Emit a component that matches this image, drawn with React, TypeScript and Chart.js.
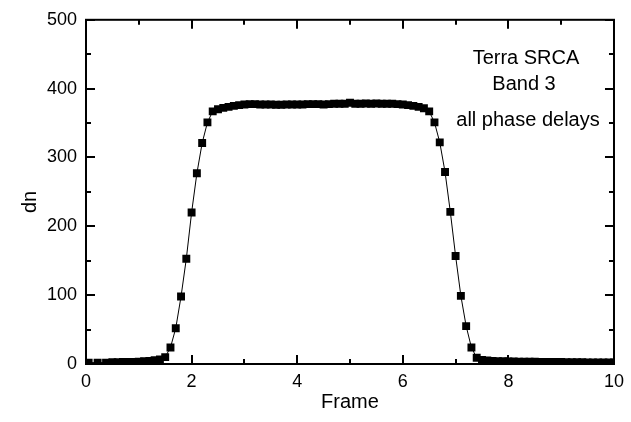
import React, { useEffect, useRef } from "react";
import { Chart, registerables } from "chart.js";

Chart.register(...registerables);

// Frame position of each sample
const frame: number[] = [
  0.05, 0.22, 0.38, 0.5, 0.6, 0.7, 0.8, 0.9, 1.0, 1.1, 1.2, 1.3, 1.4,
  1.5, 1.6, 1.7, 1.8, 1.9, 2.0, 2.1, 2.2, 2.3, 2.4, 2.5, 2.6, 2.7, 2.8, 2.9,
  3.0, 3.1, 3.2, 3.3, 3.4, 3.5, 3.6, 3.7, 3.8, 3.9, 4.0, 4.1, 4.2, 4.3, 4.4,
  4.5, 4.6, 4.7, 4.8, 4.9, 5.0, 5.1, 5.2, 5.3, 5.4, 5.5, 5.6, 5.7, 5.8, 5.9,
  6.0, 6.1, 6.2, 6.3, 6.4, 6.5, 6.6, 6.7, 6.8, 6.9, 7.0, 7.1, 7.2, 7.3, 7.4,
  7.5, 7.6, 7.7, 7.8, 7.9, 8.0, 8.1, 8.2, 8.3, 8.4, 8.5, 8.6, 8.7, 8.8, 8.9,
  9.0, 9.1, 9.2, 9.3, 9.4, 9.5, 9.6, 9.7, 9.8, 9.9, 10.0,
];

// Measured dn for each frame position
const dn: number[] = [
  2, 2, 2, 2.5, 2.5, 3, 3, 3, 3.5, 4, 4.5, 5.5, 6.5,
  10, 24, 52, 98, 153, 220, 277, 321, 351, 367, 370, 372, 373.5, 375, 376,
  377, 377.5, 377.5, 377, 377, 377, 376.5, 376.5, 377, 377, 377, 377, 377.5, 377.5, 377.5,
  377, 377.5, 378, 378, 378, 379.5, 378, 378, 378.5, 378, 378.5, 378, 378, 378, 377.5,
  377, 376, 375, 373.5, 371.5, 367, 351, 322, 279, 221, 157, 99, 55, 24, 9,
  6, 5, 4.5, 4, 4, 3.8, 3.6, 3.5, 3.4, 3.3, 3.2, 3.1, 3, 3, 3,
  2.8, 2.7, 2.6, 2.5, 2.5, 2.4, 2.3, 2.3, 2.2, 2.2, 2.1,
];

const xMajorTicks: number[] = [0, 2, 4, 6, 8, 10];
const xMinorTicks: number[] = [1, 3, 5, 7, 9];
const yMajorTicks: number[] = [0, 100, 200, 300, 400, 500];
const yMinorTicks: number[] = [50, 150, 250, 350, 450];

const xTitle = "Frame";
const yTitle = "dn";
const noteLines: string[] = ["Terra SRCA", "Band 3", "all phase delays"];

const FONT = "'Liberation Sans', Arial, sans-serif";

// Box frame, inward ticks on all four sides, axis titles and the note
const framePlugin = {
  id: "frameTicks",
  afterDatasetsDraw(chart: any) {
    const { ctx, chartArea: a } = chart;
    const xs = chart.scales.x;
    const ys = chart.scales.y;
    ctx.save();
    ctx.strokeStyle = "#000";
    ctx.lineWidth = 2;
    ctx.strokeRect(a.left, a.top, a.right - a.left, a.bottom - a.top);

    ctx.beginPath();
    const xt = (vals: number[], len: number) => {
      vals.forEach((v) => {
        const px = Math.round(xs.getPixelForValue(v));
        ctx.moveTo(px, a.bottom);
        ctx.lineTo(px, a.bottom - len);
        ctx.moveTo(px, a.top);
        ctx.lineTo(px, a.top + len);
      });
    };
    const yt = (vals: number[], len: number) => {
      vals.forEach((v) => {
        const py = Math.round(ys.getPixelForValue(v));
        ctx.moveTo(a.left, py);
        ctx.lineTo(a.left + len, py);
        ctx.moveTo(a.right, py);
        ctx.lineTo(a.right - len, py);
      });
    };
    xt(xMajorTicks, 9);
    xt(xMinorTicks, 5);
    yt(yMajorTicks, 9);
    yt(yMinorTicks, 5);
    ctx.stroke();

    ctx.fillStyle = "#000";
    ctx.textAlign = "center";
    ctx.textBaseline = "middle";
    ctx.font = `20px ${FONT}`;
    ctx.fillText(xTitle, (a.left + a.right) / 2, 402);

    ctx.save();
    ctx.translate(30, 202);
    ctx.rotate(-Math.PI / 2);
    ctx.fillText(yTitle, 0, 0);
    ctx.restore();

    ctx.textBaseline = "alphabetic";
    ctx.fillText(noteLines[0], 526, 64);
    ctx.fillText(noteLines[1], 524, 90);
    ctx.fillText(noteLines[2], 528, 126);
    ctx.restore();
  },
};

export default function App() {
  const canvasRef = useRef<HTMLCanvasElement | null>(null);

  useEffect(() => {
    document.body.style.margin = "0";
    const canvas = canvasRef.current;
    if (!canvas) return;
    const points = frame.map((f, i) => ({ x: f, y: dn[i] }));
    const chart = new Chart(canvas, {
      type: "scatter",
      data: {
        datasets: [
          {
            data: points,
            showLine: true,
            borderColor: "#000",
            borderWidth: 1,
            pointStyle: "rect",
            pointRadius: 5.6,
            pointBorderWidth: 0,
            pointBackgroundColor: "#000",
            backgroundColor: "#000",
          },
        ],
      },
      options: {
        responsive: false,
        animation: false,
        devicePixelRatio: 1,
        layout: { padding: { top: 17, right: 12, left: 0, bottom: 0 } },
        plugins: {
          legend: { display: false },
          tooltip: { enabled: false },
        },
        scales: {
          x: {
            type: "linear",
            min: 0,
            max: 10,
            grid: { display: false, drawTicks: false },
            border: { display: false },
            ticks: {
              stepSize: 2,
              color: "#000",
              padding: 7,
              font: { family: FONT, size: 18 },
              maxRotation: 0,
            },
            afterFit: (s: any) => {
              s.height = 58;
            },
          },
          y: {
            type: "linear",
            min: 0,
            max: 500,
            grid: { display: false, drawTicks: false },
            border: { display: false },
            ticks: {
              stepSize: 100,
              color: "#000",
              padding: 9,
              font: { family: FONT, size: 18 },
            },
            afterFit: (s: any) => {
              s.width = 86;
            },
          },
        },
      },
      plugins: [framePlugin],
    });
    return () => chart.destroy();
  }, []);

  return (
    <div style={{ width: 631, height: 422, background: "#fff" }}>
      <canvas ref={canvasRef} width={631} height={422} />
    </div>
  );
}
